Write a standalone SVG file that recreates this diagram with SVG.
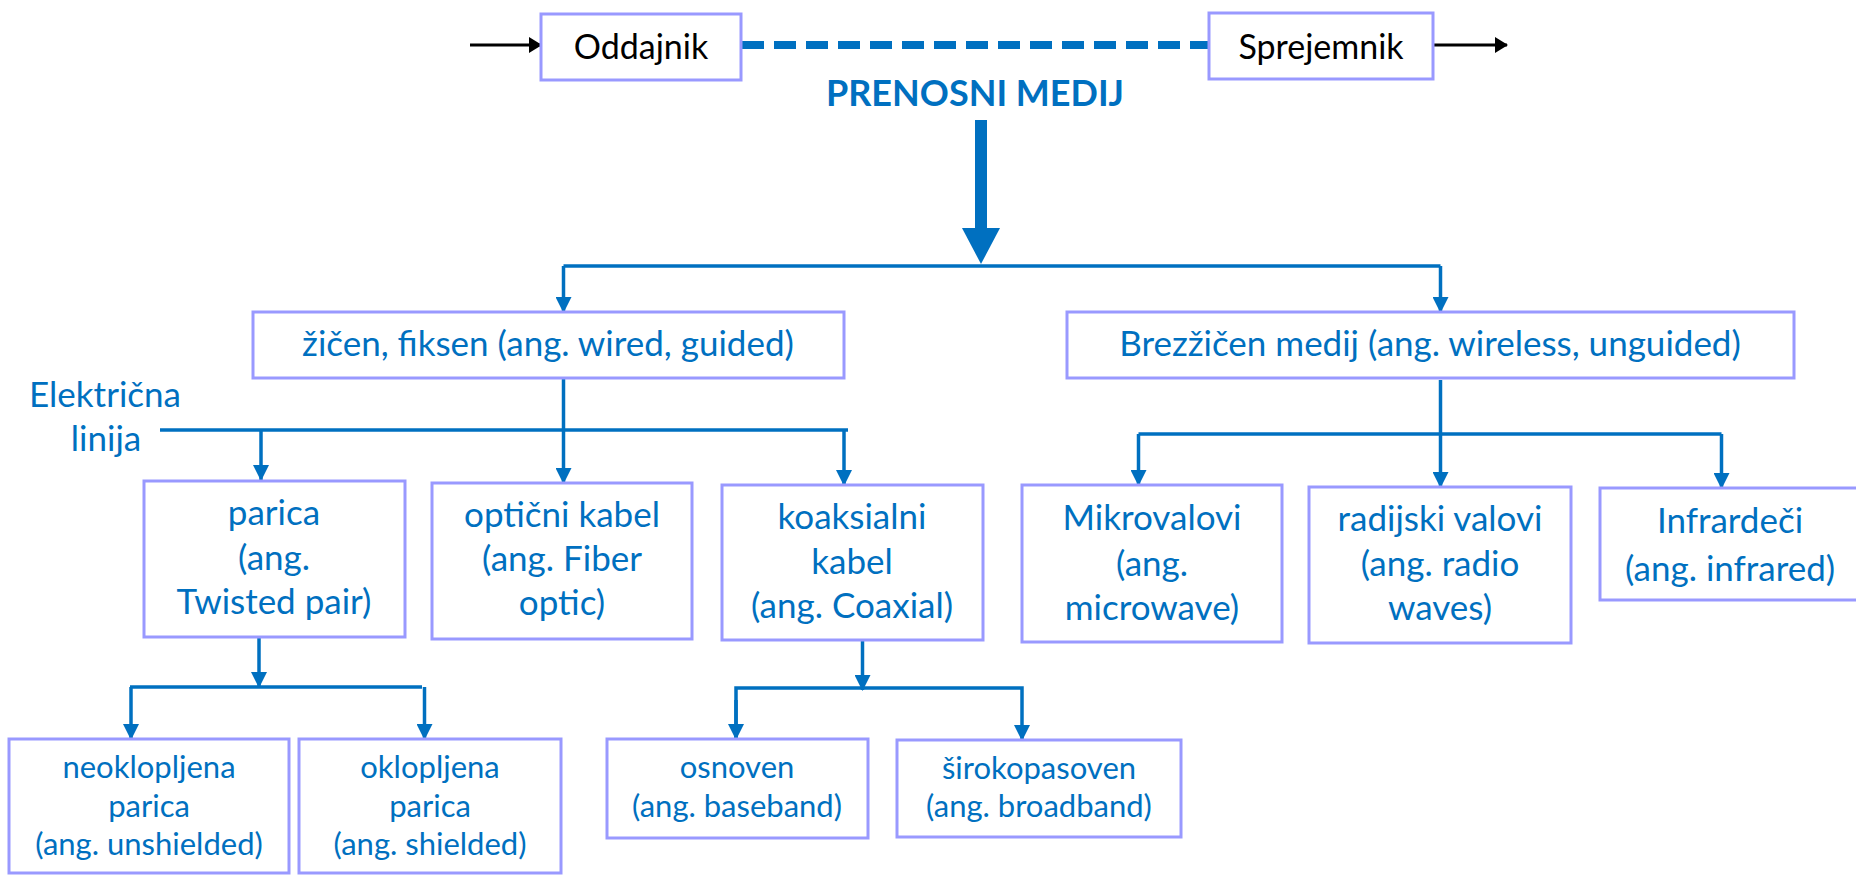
<svg xmlns="http://www.w3.org/2000/svg" width="1856" height="875" viewBox="0 0 1856 875">
<defs>
<style>
.box{fill:#fff;stroke:#9999FF;stroke-width:3}
.t{font-family:Lato,"Liberation Sans",sans-serif;font-size:35px;fill:#0070C0;text-anchor:middle}
.s{font-family:Lato,"Liberation Sans",sans-serif;font-size:31px;fill:#0070C0;text-anchor:middle}
.k{font-family:Lato,"Liberation Sans",sans-serif;font-size:34px;fill:#000;text-anchor:middle}
.ttl{font-family:Lato,"Liberation Sans",sans-serif;font-size:36px;font-weight:bold;fill:#0070C0;text-anchor:middle}
.c{fill:none;stroke:#0070C0;stroke-width:3.5}
.ca{fill:none;stroke:#0070C0;stroke-width:3.5;marker-end:url(#ah)}
.ba{fill:none;stroke:#000;stroke-width:3;marker-end:url(#bh)}
</style>
<marker id="ah" markerUnits="userSpaceOnUse" markerWidth="16" markerHeight="16" viewBox="0 0 16 16" refX="15" refY="8" orient="auto">
<path d="M0,0 L16,8 L0,16 Z" fill="#0070C0"/>
</marker>
<marker id="bh" markerUnits="userSpaceOnUse" markerWidth="13" markerHeight="16" viewBox="0 0 13 16" refX="12" refY="8" orient="auto">
<path d="M0,0 L13,8 L0,16 Z" fill="#000"/>
</marker>
</defs>
<rect width="1856" height="875" fill="#fff"/>
<g id="connectors">
<line class="ba" x1="470" y1="45" x2="541" y2="45"/>
<line class="ba" x1="1434" y1="45" x2="1507" y2="45"/>
<line x1="742" y1="45" x2="1209" y2="45" stroke="#0070C0" stroke-width="8" stroke-dasharray="22 10"/>
<rect x="975" y="120" width="12" height="109" fill="#0070C0"/>
<path d="M962,228 L1000,228 L981,264 Z" fill="#0070C0"/>
<line class="c" x1="563.5" y1="266" x2="1440.5" y2="266"/>
<line class="ca" x1="563.5" y1="266" x2="563.5" y2="312"/>
<line class="ca" x1="1440.5" y1="266" x2="1440.5" y2="312"/>
<line class="ca" x1="563.5" y1="378" x2="563.5" y2="483"/>
<line class="c" x1="160" y1="430" x2="848" y2="430"/>
<line class="ca" x1="261" y1="430" x2="261" y2="480"/>
<line class="ca" x1="844" y1="430" x2="844" y2="485"/>
<line class="ca" x1="1440.5" y1="380" x2="1440.5" y2="487"/>
<line class="c" x1="1138.5" y1="434" x2="1721.5" y2="434"/>
<line class="ca" x1="1138.5" y1="434" x2="1138.5" y2="485"/>
<line class="ca" x1="1721.5" y1="434" x2="1721.5" y2="488"/>
<line class="ca" x1="259" y1="637" x2="259" y2="687"/>
<line class="c" x1="130" y1="687" x2="422" y2="687"/>
<line class="ca" x1="131" y1="687" x2="131" y2="739"/>
<line class="ca" x1="424.5" y1="687" x2="424.5" y2="739"/>
<line class="ca" x1="862.5" y1="640" x2="862.5" y2="690"/>
<path class="c" d="M736,739 L736,688 L1022,688 L1022,700"/>
<line class="ca" x1="736" y1="700" x2="736" y2="739"/>
<line class="ca" x1="1022" y1="700" x2="1022" y2="740"/>
</g>
<g id="oddajnik"><rect class="box" x="541" y="14" width="200" height="66"/><text class="k" x="641" y="59">Oddajnik</text></g>
<g id="sprejemnik"><rect class="box" x="1209" y="13" width="224" height="66"/><text class="k" x="1321" y="59">Sprejemnik</text></g>
<g id="prenosni"><text class="ttl" x="975" y="106">PRENOSNI MEDIJ</text></g>
<g id="zicen"><rect class="box" x="253" y="312" width="591" height="66"/><text class="t" x="548" y="356">žičen, fiksen (ang. wired, guided)</text></g>
<g id="brezzicen"><rect class="box" x="1067" y="312" width="727" height="66"/><text class="t" x="1430" y="356">Brezžičen medij (ang. wireless, unguided)</text></g>
<g id="elektricna"><text class="t" x="105" y="407">Električna</text><text class="t" x="106" y="451">linija</text></g>
<g id="parica"><rect class="box" x="144" y="481" width="261" height="156"/><text class="t" x="274" y="525">parica</text><text class="t" x="274" y="570">(ang.</text><text class="t" x="274" y="614">Twisted pair)</text></g>
<g id="opticni"><rect class="box" x="432" y="483" width="260" height="156"/><text class="t" x="562" y="527">optični kabel</text><text class="t" x="562" y="571">(ang. Fiber</text><text class="t" x="562" y="615">optic)</text></g>
<g id="koaksialni"><rect class="box" x="722" y="485" width="261" height="155"/><text class="t" x="852" y="529">koaksialni</text><text class="t" x="852" y="574">kabel</text><text class="t" x="852" y="618">(ang. Coaxial)</text></g>
<g id="mikrovalovi"><rect class="box" x="1022" y="485" width="260" height="157"/><text class="t" x="1152" y="530">Mikrovalovi</text><text class="t" x="1152" y="576">(ang.</text><text class="t" x="1152" y="620">microwave)</text></g>
<g id="radijski"><rect class="box" x="1309" y="487" width="262" height="156"/><text class="t" x="1440" y="531">radijski valovi</text><text class="t" x="1440" y="576">(ang. radio</text><text class="t" x="1440" y="620">waves)</text></g>
<g id="infrardeci"><rect class="box" x="1600" y="488" width="262" height="112"/><text class="t" x="1730" y="533">Infrardeči</text><text class="t" x="1730" y="581">(ang. infrared)</text></g>
<g id="neoklopljena"><rect class="box" x="9" y="739" width="280" height="134"/><text class="s" x="149" y="778">neoklopljena</text><text class="s" x="149" y="817">parica</text><text class="s" x="149" y="855">(ang. unshielded)</text></g>
<g id="oklopljena"><rect class="box" x="299" y="739" width="262" height="134"/><text class="s" x="430" y="778">oklopljena</text><text class="s" x="430" y="817">parica</text><text class="s" x="430" y="855">(ang. shielded)</text></g>
<g id="osnoven"><rect class="box" x="607" y="739" width="261" height="99"/><text class="s" x="737" y="778">osnoven</text><text class="s" x="737" y="817">(ang. baseband)</text></g>
<g id="sirokopasoven"><rect class="box" x="897" y="740" width="284" height="97"/><text class="s" x="1039" y="779">širokopasoven</text><text class="s" x="1039" y="817">(ang. broadband)</text></g>
</svg>
